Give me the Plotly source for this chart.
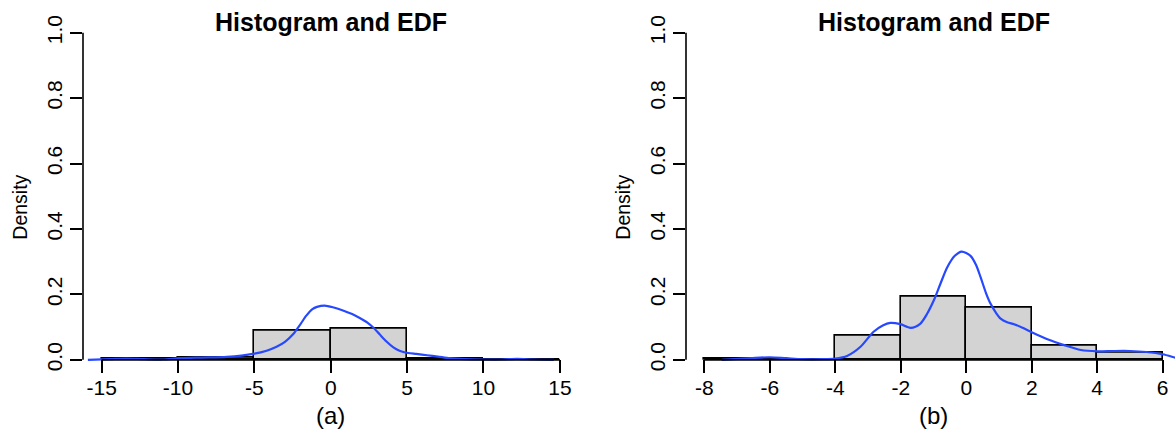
import plotly.graph_objects as go

# ---- data -------------------------------------------------------------
# panel (a): histogram on bins of width 5
a_edges = [-15, -10, -5, 0, 5, 10, 15]
a_density = [0.003, 0.007, 0.089, 0.094, 0.005, 0.002]
# panel (a): kernel density estimate
a_kde_x = [-15.9, -14.5, -13.4, -12.2, -11.0, -9.9, -8.5, -6.8, -5.0, -4.2,
           -3.55, -3.0, -2.47, -2.0, -1.6, -1.2, -0.9, -0.4, 0.2, 0.8,
           1.4, 1.9, 2.4, 2.8, 3.2, 3.65, 4.1, 4.5, 5.07, 5.6,
           6.3, 7.0, 7.8, 8.8, 10.0, 11.2, 12.2, 13.3, 14.6]
a_kde_y = [0.000, 0.002, 0.004, 0.002, 0.001, 0.005, 0.007, 0.009, 0.019, 0.028,
           0.040, 0.055, 0.078, 0.108, 0.135, 0.155, 0.162, 0.166, 0.160, 0.151,
           0.140, 0.128, 0.114, 0.098, 0.078, 0.056, 0.038, 0.028, 0.021, 0.018,
           0.014, 0.010, 0.005, 0.002, 0.001, 0.001, 0.003, 0.001, 0.000]

# panel (b): histogram on bins of width 2
b_edges = [-8, -6, -4, -2, 0, 2, 4, 6]
b_density = [0.003, 0.0, 0.075, 0.194, 0.161, 0.045, 0.022]
# panel (b): kernel density estimate
b_kde_x = [-7.47, -6.6, -6.0, -5.5, -5.0, -4.4, -4.0, -3.64, -3.23, -2.83,
           -2.55, -2.32, -2.01, -1.70, -1.40, -1.2, -0.99, -0.78, -0.58, -0.35,
           -0.14, 0.13, 0.3, 0.44, 0.6, 0.74, 0.9, 1.05, 1.25, 1.46,
           1.7, 1.97, 2.48, 2.99, 3.5, 4.01, 4.5, 5.0, 5.5, 6.0, 6.4, 6.56]
b_kde_y = [0.000, 0.005, 0.008, 0.005, 0.002, 0.002, 0.004, 0.012, 0.040, 0.086,
           0.105, 0.113, 0.109, 0.098, 0.111, 0.140, 0.182, 0.235, 0.283, 0.318,
           0.331, 0.318, 0.290, 0.252, 0.205, 0.172, 0.145, 0.126, 0.115, 0.109,
           0.099, 0.086, 0.063, 0.045, 0.030, 0.026, 0.027, 0.027, 0.024, 0.017, 0.006, 0.002]

a_ticks = [-15, -10, -5, 0, 5, 10, 15]
b_ticks = [-8, -6, -4, -2, 0, 2, 4, 6]
y_ticks = [0.0, 0.2, 0.4, 0.6, 0.8, 1.0]
y_labels = ["0.0", "0.2", "0.4", "0.6", "0.8", "1.0"]

# ---- layout geometry --------------------------------------------------
W, H = 1175, 436
FONT = "Liberation Sans, Arial, Helvetica, sans-serif"
HIST_FILL = "#D3D3D3"
KDE_COLOR = "rgb(38,72,255)"

a_range = [-16.22, 16.22]
b_full = [-8.56, 6.56]                      # full plotting range of panel (b)
b_range = [b_full[0], b_full[0] + (W - 686) / 32.74]   # part that fits on the page
y_range = [-0.04, 1.04]

a_dom = [83 / W, 578.5 / W]
b_dom = [686 / W, 1.0]
y_dom = [(H - 372.2) / H, (H - 14.8) / H]


def centers(edges):
    return [(lo + hi) / 2 for lo, hi in zip(edges[:-1], edges[1:])]


def widths(edges):
    return [hi - lo for lo, hi in zip(edges[:-1], edges[1:])]


fig = go.Figure()

for edges, dens, kx, ky, xa, ya in [
    (a_edges, a_density, a_kde_x, a_kde_y, "x", "y"),
    (b_edges, b_density, b_kde_x, b_kde_y, "x2", "y2"),
]:
    fig.add_trace(go.Bar(
        x=centers(edges), y=dens, width=widths(edges),
        marker=dict(color=HIST_FILL, line=dict(color="black", width=1.6)),
        xaxis=xa, yaxis=ya, showlegend=False,
    ))
    fig.add_trace(go.Scatter(
        x=kx, y=ky, mode="lines",
        line=dict(color=KDE_COLOR, width=2.2, shape="spline", smoothing=0.8),
        xaxis=xa, yaxis=ya, showlegend=False,
    ))

tick_font = dict(family=FONT, size=21, color="black")

common_x = dict(showgrid=False, zeroline=False, showline=False, ticks="inside",
                ticklen=13, tickwidth=1.5, tickcolor="black", tickfont=tick_font,
                ticklabelstandoff=0, fixedrange=True)
common_y = dict(range=y_range, domain=y_dom, showgrid=False, zeroline=False,
                showline=False, ticks="outside", ticklen=12, tickwidth=1.5,
                tickcolor="black", tickfont=tick_font, tickangle=-90,
                tickvals=y_ticks, ticktext=y_labels, fixedrange=True)

fig.update_layout(
    width=W, height=H,
    margin=dict(l=0, r=0, t=0, b=0),
    paper_bgcolor="white", plot_bgcolor="white",
    bargap=0,
    xaxis=dict(range=a_range, domain=a_dom, anchor="y", tickvals=a_ticks,
               ticktext=[str(t) for t in a_ticks], **common_x),
    yaxis=dict(anchor="x", **common_y),
    xaxis2=dict(range=b_range, domain=b_dom, anchor="y2", tickvals=b_ticks,
                ticktext=[str(t) for t in b_ticks], **common_x),
    yaxis2=dict(anchor="x2", **common_y),
)

shapes = []
annotations = []
for xa, ya, ticks, full, dom, tag in [
    ("x", "y", a_ticks, a_range, a_dom, "(a)"),
    ("x2", "y2", b_ticks, b_full, b_dom, "(b)"),
]:
    # x axis line spans the tick range, drawn at density 0
    shapes.append(dict(type="line", xref=xa, yref=ya, x0=ticks[0], x1=ticks[-1],
                       y0=0, y1=0, line=dict(color="black", width=1.6), layer="above"))
    # y axis line from 0 to 1 on the left edge of the panel
    shapes.append(dict(type="line", xref=xa + " domain", yref=ya, x0=0, x1=0,
                       y0=y_ticks[0], y1=y_ticks[-1], line=dict(color="black", width=1.6)))
    mid = (full[0] + full[1]) / 2
    annotations.append(dict(text="<b>Histogram and EDF</b>", xref=xa, yref="paper",
                            x=mid, y=1 - 17 / H, xanchor="center", yanchor="middle",
                            showarrow=False, font=dict(family=FONT, size=25, color="black")))
    annotations.append(dict(text=tag, xref=xa, yref="paper", x=mid, y=1 - 415 / H,
                            xanchor="center", yanchor="middle", showarrow=False,
                            font=dict(family=FONT, size=24, color="black")))
    annotations.append(dict(text="Density", xref="paper", yref="paper",
                            x=(dom[0] * W - 63) / W, y=1 - 205 / H, textangle=-90,
                            xanchor="center", yanchor="middle", showarrow=False,
                            font=dict(family=FONT, size=19.5, color="black")))

fig.update_layout(shapes=shapes, annotations=annotations)

fig.write_html("out.html")
